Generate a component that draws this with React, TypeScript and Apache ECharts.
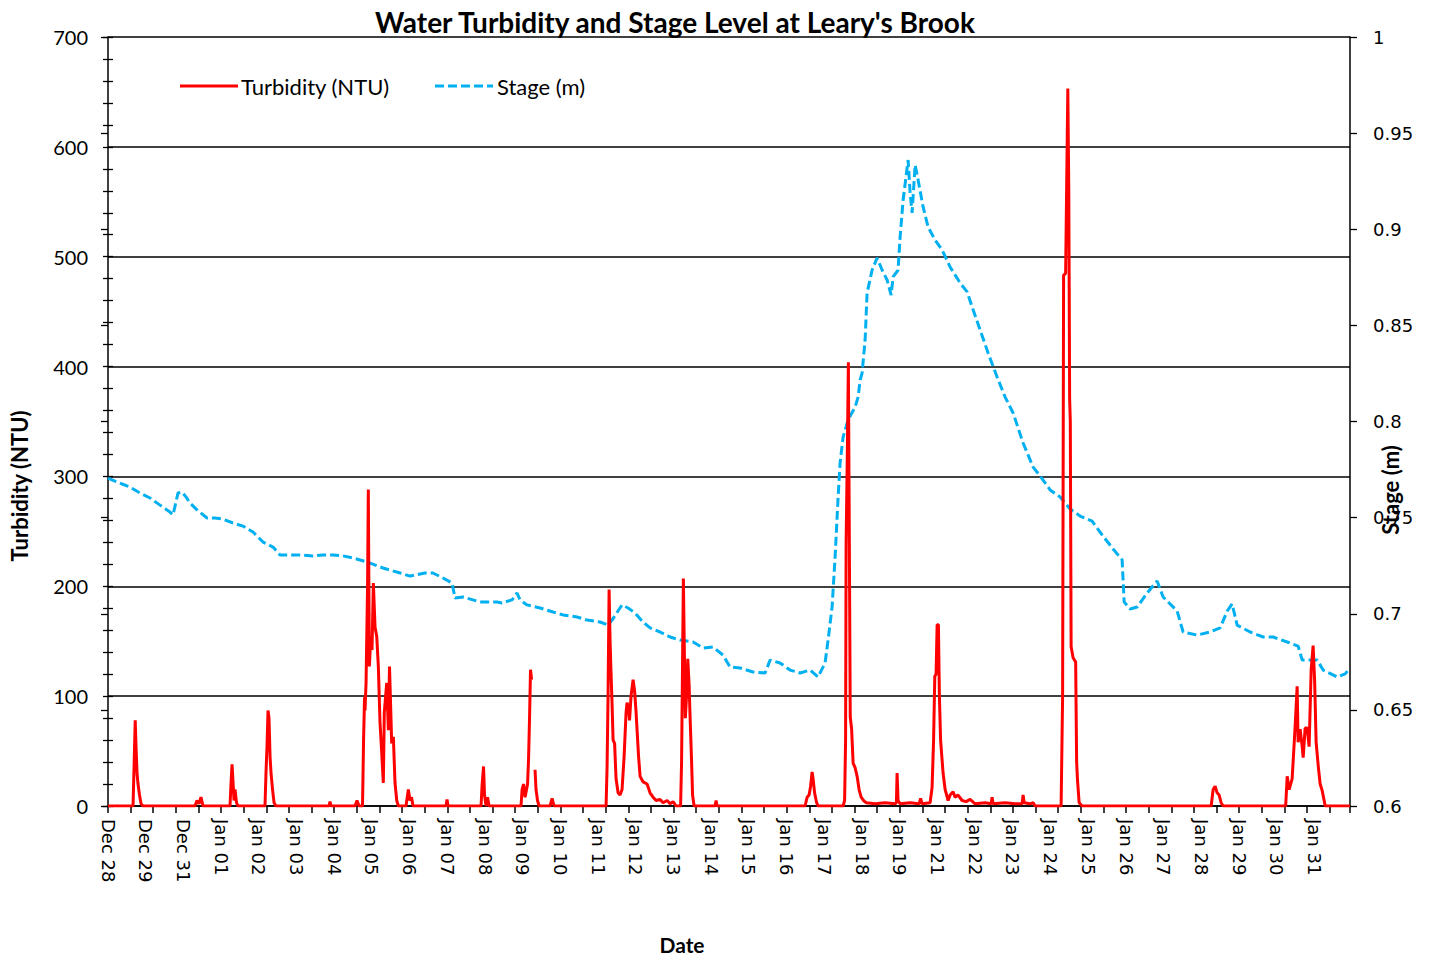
import React, { useEffect, useRef } from "react";
import * as echarts from "echarts";

const tickLabels = [
  "Dec 28", "Dec 29", "Dec 31", "Jan 01", "Jan 02", "Jan 03", "Jan 04", "Jan 05", "Jan 06",
  "Jan 07", "Jan 08", "Jan 09", "Jan 10", "Jan 11", "Jan 12", "Jan 13", "Jan 14", "Jan 15",
  "Jan 16", "Jan 17", "Jan 18", "Jan 19", "Jan 21", "Jan 22", "Jan 23", "Jan 24", "Jan 25",
  "Jan 26", "Jan 27", "Jan 28", "Jan 29", "Jan 30", "Jan 31",
];

const seriesNames = ["Turbidity (NTU)", "Stage (m)"];

// sample position along the category axis (one label every 5 samples)
const turbX = [
  0, 3.32, 3.51, 3.61, 3.71, 3.85, 3.98, 4.18, 4.38, 4.64,
  11.54, 11.8, 12.07, 12.33, 12.6,
  16.18, 16.31, 16.45, 16.58, 16.71, 16.84, 17.04, 17.24,
  20.82, 20.95, 21.09, 21.22, 21.35, 21.49, 21.62, 21.82, 22.02, 22.28,
  29.31, 29.44, 29.58, 32.76, 33.02, 33.29,
  33.75, 33.89, 34.02, 34.08, 34.22, 34.42, 34.52, 34.66, 34.84, 35.01, 35.19, 35.41, 35.64,
  35.85, 36.07, 36.3, 36.51, 36.64, 36.96, 37.18, 37.33, 37.4, 37.62, 37.84, 38.06, 38.29, 38.5,
  39.52, 39.83, 40.05, 40.25, 40.45, 44.83, 44.96, 45.09,
  49.47, 49.6, 49.8, 49.93, 50.13, 50.33, 50.53,
  54.77, 54.91, 55.11, 55.31, 55.64, 55.77, 55.9, 56.03, 56.17, 56.4, 56.63, 56.76, 56.96, 57.16,
  58.62, 58.89, 59.15,
  66.05, 66.18, 66.31, 66.45, 66.58, 66.71, 66.84, 66.98, 67.18, 67.37, 67.64, 67.9, 68.17,
  68.44, 68.7, 68.83, 69.03, 69.16, 69.36, 69.63, 69.83, 70.03, 70.16, 70.36, 70.56, 70.95,
  71.49, 71.88, 72.28, 72.68, 73.21, 73.61, 74.14, 74.54, 74.93, 75.33,
  75.93, 76.06, 76.19, 76.3, 76.43, 76.56, 76.72, 76.88, 77.06, 77.19, 77.39, 77.52, 77.72,
  80.5, 80.64, 80.77,
  92.44, 92.71, 92.97, 93.17, 93.37, 93.5, 93.7, 93.97, 94.16,
  97.48, 97.68, 97.81, 97.88, 98.04, 98.18, 98.3, 98.43, 98.61, 98.81, 99.07, 99.34, 99.6,
  99.87, 100.2, 100.53, 101.72, 103.05, 104.38, 104.55, 104.64, 104.77, 105.04, 106.37,
  107.56, 107.76, 107.96,
  109.02, 109.28, 109.48, 109.64, 109.81, 109.95, 110.12, 110.25, 110.41, 110.54, 110.74,
  111.01, 111.41, 111.67, 112.07, 112.33, 112.73, 113.26, 113.79, 114.32, 114.99, 116.31,
  117.11, 117.24, 117.37, 118.97, 120.29, 121.22, 121.35, 121.49, 122.28, 122.68, 122.94,
  126.39, 126.59, 126.72, 126.99, 127.28, 127.41, 127.52, 127.61, 127.72, 127.98, 128.32,
  128.45, 128.56, 128.78, 129.18,
  146.29, 146.55, 146.82, 147.08, 147.35, 147.61, 147.88,
  156.17, 156.37, 156.63, 157.03, 157.43, 157.69, 157.82, 158.09, 158.36, 158.49, 158.75,
  159.02, 159.28, 159.55, 159.81, 160.01, 160.21, 160.48, 160.74, 161.01, 161.41, 164.7,
];

// turbidity in NTU (null = missing reading)
const turbY = [
  0, 0, 50, 78, 55, 30, 20, 10, 2, 0,
  0, 5, 2, 8, 0,
  0, 20, 38, 22, 5, 15, 3, 0,
  0, 30, 55, 87, 80, 45, 30, 15, 3, 0,
  0, 4, 0, 0, 5, 0,
  0, 60, 99, 87, 112, 200, 288, 127, 154, 142, 203, 163, 154,
  127, 76, 48, 21, 85, 112, 69, 127, 110, 57, 63, 21, 5, 0,
  0, 15, 5, 8, 0, 0, 6, 0,
  0, 18, 36, 10, 0, 8, 0,
  0, 15, 20, 8, 20, 43, 80, 124, 115, null, 33, 15, 5, 0,
  0, 7, 0,
  0, 35, 100, 197, 150, 120, 94, 60, 57, 25, 12, 10, 15,
  45, 85, 94, 90, 78, 100, 115, 105, 85, 69, 45, 27, 22,
  20, 12, 8, 5, 6, 3, 5, 2, 4, 0,
  0, 40, 130, 207, 140, 80, 100, 134, 110, 81, 40, 10, 0,
  0, 5, 0,
  0, 8, 10, 18, 31, 25, 12, 3, 0,
  0, 5, 60, 239, 320, 404, 250, 81, 70, 39, 35, 27, 15,
  8, 5, 3, 2, 3, 2, 3, 30, 5, 2, 3,
  2, 7, 2,
  3, 17, 60, 118, 120, 165, 165, 100, 60, 48, 30,
  15, 5, 10, 13, 8, 10, 5, 4, 6, 2, 3,
  2, 8, 2, 3, 2, 2, 10, 3, 2, 3, 0,
  0, 100, 483, 485, 653, 560, 371, 350, 145, 135, 131,
  40, 24, 3, 0,
  0, 15, 18, 12, 10, 3, 0,
  0, 27, 15, 25, 73, 109, 58, 70, 54, 44, 71,
  71, 54, 124, 146, 114, 58, 37, 20, 14, 0, 0,
];

const stageX = [
  0, 0.93, 1.86, 2.92, 4.24, 5.57, 6.9, 7.82, 8.22, 8.62, 8.89, 9.28, 9.81, 10.34, 10.88,
  11.8, 13.13, 14.19, 15.12, 16.58, 17.9, 19.23, 20.56, 21.88, 22.81, 24.14, 25.46, 27.19,
  28.51, 29.84, 31.17, 32.49, 34.35, 36.47, 38.73, 40.05, 42.04, 43.1, 44.43, 45.62, 46.02,
  47.08, 49.34, 51.59, 52.25, 53.58, 54.24, 54.64, 55.57, 57.29, 59.02, 60.34, 62.2, 63.53,
  65.25, 66.31, 66.84, 68.17, 68.97, 69.89, 70.95, 71.88, 73.21, 74.54, 75.86, 77.59, 78.91,
  80.24, 81.56, 82.49, 83.82, 85.54, 87.14, 87.8, 89.12, 90.45, 91.78, 93.1, 94.16, 95.09,
  95.49, 96.02, 96.42, 96.82, 97.08, 97.48, 98.14, 99.07, 99.47, 99.74, 100.0, 100.4, 100.66,
  101.33, 101.99, 102.65, 103.32, 103.85, 104.11, 104.77, 105.04, 105.44, 106.1, 106.37,
  106.63, 107.03, 107.43, 108.09, 108.75, 109.68, 110.61, 111.67, 113.0, 113.93, 114.59,
  115.65, 116.71, 117.9, 118.97, 120.03, 121.35, 122.68, 123.61, 124.93, 126.26, 127.59,
  128.91, 130.5, 131.83, 133.29, 134.48, 134.75, 135.54, 136.47, 137.8, 139.12, 139.92,
  141.78, 142.57, 144.43, 146.15, 147.48, 148.41, 149.07, 149.73, 151.46, 153.18, 154.51,
  156.37, 157.82, 158.36, 160.34, 161.14, 163.0, 164.06, 164.7,
];

// stage in metres
const stageY = [
  0.7706, 0.769, 0.7675, 0.7659, 0.7628, 0.7602, 0.7565, 0.754, 0.7529, 0.7514, 0.756, 0.7628,
  0.7633, 0.7608, 0.7576, 0.754, 0.7498, 0.7498, 0.7493, 0.7472, 0.7456, 0.7425, 0.7373,
  0.7347, 0.7306, 0.7306, 0.7306, 0.7301, 0.7306, 0.7306, 0.7301, 0.729, 0.7269, 0.7238,
  0.7212, 0.7196, 0.7212, 0.7212, 0.7186, 0.716, 0.7082, 0.7087, 0.7061, 0.7061, 0.7056,
  0.7072, 0.7108, 0.7072, 0.7046, 0.703, 0.7009, 0.6994, 0.6983, 0.6967, 0.6957, 0.6941,
  0.6967, 0.7046, 0.703, 0.7004, 0.6957, 0.6926, 0.6905, 0.6879, 0.6863, 0.6853, 0.6822,
  0.6827, 0.6785, 0.6723, 0.6718, 0.6697, 0.6692, 0.6759, 0.6744, 0.6707, 0.6692, 0.6707,
  0.6671, 0.6744, 0.6863, 0.7035, 0.7295, 0.7607, 0.7784, 0.7919, 0.8008, 0.8075, 0.8127,
  0.8216, 0.8252, 0.8424, 0.8668, 0.8788, 0.8851, 0.8788, 0.8736, 0.8658, 0.8752, 0.8788,
  0.896, 0.9152, 0.936, 0.9189, 0.9085, 0.9334, 0.9256, 0.9116, 0.9012, 0.8944, 0.8892,
  0.8804, 0.872, 0.8674, 0.8596, 0.8476, 0.8356, 0.8231, 0.8127, 0.8044, 0.7888, 0.7763,
  0.7716, 0.7644, 0.7607, 0.7545, 0.7508, 0.7482, 0.741, 0.7337, 0.728, 0.7061, 0.7025,
  0.7035, 0.7108, 0.717, 0.7087, 0.7014, 0.6905, 0.6889, 0.6905, 0.6926, 0.7014, 0.7051,
  0.6941, 0.6905, 0.6879, 0.6879, 0.6853, 0.6832, 0.6759, 0.6759, 0.6707, 0.6671, 0.6687,
  0.6718,
];

const X_MAX = 164.7;
const RED = "#FF0000";
const BLUE = "#00B0F0";
const DASH = [9, 4];
const LATO = "Lato, 'Open Sans', sans-serif";
const DEJAVU = "'DejaVu Sans', Verdana, sans-serif";

export default function App() {
  const ref = useRef<HTMLDivElement>(null);

  useEffect(() => {
    if (!ref.current) return;
    const chart = echarts.init(ref.current, undefined, { renderer: "svg" });

    const turbData = turbX.map((x, i) => [x, turbY[i] === null ? "-" : turbY[i]]);
    const stageData = stageX.map((x, i) => [x, stageY[i]]);

    const axisLineStyle = { color: "#000", width: 1.5 };
    const boldText = (text: string, x: number, y: number, size: number, rot = 0) => ({
      type: "text",
      x,
      y,
      rotation: rot,
      style: {
        text,
        fontFamily: LATO,
        fontWeight: "bold",
        fontSize: size,
        fill: "#000",
        textAlign: "center",
        textVerticalAlign: "middle",
      },
    });

    chart.setOption({
      animation: false,
      backgroundColor: "#fff",
      grid: { left: 108, right: 82, top: 37, bottom: 149, containLabel: false },
      xAxis: [
        {
          type: "value",
          min: 0,
          max: X_MAX,
          interval: 5,
          position: "bottom",
          axisLine: { show: true, lineStyle: axisLineStyle, onZero: false },
          axisTick: { show: false },
          splitLine: { show: false },
          axisLabel: {
            rotate: -90,
            margin: 13,
            fontFamily: DEJAVU,
            fontSize: 18,
            color: "#000",
            showMaxLabel: false,
            formatter: (v: number) => {
              const k = Math.round(v / 5);
              if (Math.abs(v - k * 5) > 1e-6) return "";
              return tickLabels[k] ?? "";
            },
          },
        },
        {
          type: "value",
          min: 0,
          max: X_MAX,
          interval: 3,
          position: "bottom",
          axisLine: { show: false, onZero: false },
          axisLabel: { show: false },
          splitLine: { show: false },
          axisTick: { show: true, length: 7, lineStyle: { color: "#000", width: 1.5 } },
        },
      ],
      yAxis: [
        {
          type: "value",
          min: 0,
          max: 700,
          interval: 100,
          position: "left",
          axisLine: { show: true, lineStyle: axisLineStyle, onZero: false },
          axisTick: { show: true, length: 5, lineStyle: { color: "#000", width: 1.3 } },
          minorTick: { show: true, splitNumber: 5, length: 5, lineStyle: { color: "#000", width: 1.3 } },
          splitLine: { show: true, lineStyle: { color: "#000", width: 1.5 } },
          axisLabel: { margin: 20, fontFamily: LATO, fontSize: 20, color: "#000" },
        },
        {
          type: "value",
          min: 0.6,
          max: 1.0,
          interval: 0.05,
          position: "right",
          axisLine: { show: true, lineStyle: axisLineStyle, onZero: false },
          axisTick: { show: true, length: 7, lineStyle: { color: "#000", width: 1.3 } },
          splitLine: { show: false },
          axisLabel: {
            margin: 23,
            fontFamily: DEJAVU,
            fontSize: 18,
            color: "#000",
            formatter: (v: number) => String(+v.toFixed(2)),
          },
        },
        {
          type: "value",
          min: 0,
          max: 700,
          interval: 100,
          position: "left",
          axisLine: { show: false },
          axisLabel: { show: false },
          splitLine: { show: false },
          axisTick: { show: true, inside: true, length: 5, lineStyle: { color: "#000", width: 1.3 } },
          minorTick: { show: true, splitNumber: 5, length: 5, lineStyle: { color: "#000", width: 1.3 } },
        },
        {
          type: "value",
          min: 0.6,
          max: 1.0,
          interval: 0.05,
          position: "right",
          axisLine: { show: false },
          axisLabel: { show: false },
          splitLine: { show: false },
          axisTick: { show: true, inside: true, length: 7, lineStyle: { color: "#000", width: 1.3 } },
        },
      ],
      series: [
        {
          name: seriesNames[1],
          type: "line",
          xAxisIndex: 0,
          yAxisIndex: 1,
          data: stageData,
          symbol: "none",
          showSymbol: false,
          color: BLUE,
          lineStyle: { color: BLUE, width: 3, type: DASH },
          z: 3,
        },
        {
          name: seriesNames[0],
          type: "line",
          xAxisIndex: 0,
          yAxisIndex: 0,
          data: turbData,
          symbol: "none",
          showSymbol: false,
          connectNulls: false,
          color: RED,
          lineStyle: { color: RED, width: 3 },
          z: 4,
        },
      ],
      graphic: [
        boldText("Water Turbidity and Stage Level at Leary's Brook", 675, 22, 28),
        boldText("Turbidity (NTU)", 19, 486, 22, Math.PI / 2),
        boldText("Stage (m)", 1390, 490, 22, Math.PI / 2),
        boldText("Date", 682, 944, 21),
        {
          type: "line",
          shape: { x1: 180, y1: 86, x2: 238, y2: 86 },
          style: { stroke: RED, lineWidth: 3 },
        },
        {
          type: "text",
          x: 241,
          y: 86,
          style: {
            text: seriesNames[0],
            fontFamily: LATO,
            fontSize: 22,
            fill: "#000",
            textAlign: "left",
            textVerticalAlign: "middle",
          },
        },
        {
          type: "line",
          shape: { x1: 435, y1: 86, x2: 493, y2: 86 },
          style: { stroke: BLUE, lineWidth: 3, lineDash: DASH },
        },
        {
          type: "text",
          x: 497,
          y: 86,
          style: {
            text: seriesNames[1],
            fontFamily: LATO,
            fontSize: 22,
            fill: "#000",
            textAlign: "left",
            textVerticalAlign: "middle",
          },
        },
      ],
    });

    return () => chart.dispose();
  }, []);

  return (
    <div
      ref={ref}
      style={{ position: "absolute", left: 0, top: 0, width: 1432, height: 955, background: "#fff" }}
    />
  );
}
